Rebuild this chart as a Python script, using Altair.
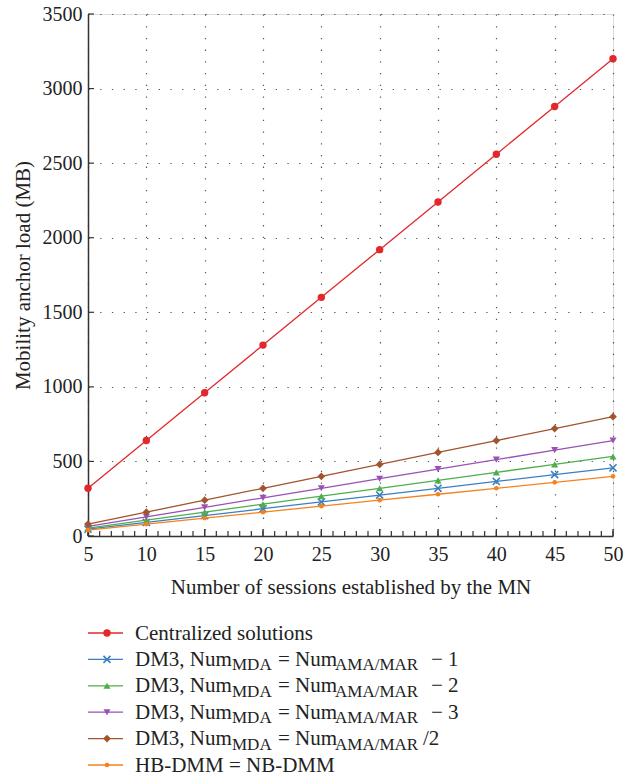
import altair as alt
import pandas as pd

# ---------------- data ----------------
sessions = [5, 10, 15, 20, 25, 30, 35, 40, 45, 50]
centralized = [320, 640, 960, 1280, 1600, 1920, 2240, 2560, 2880, 3200]
dm3_minus1 = [45.7, 91.4, 137.1, 182.9, 228.6, 274.3, 320.0, 365.7, 411.4, 457.1]
dm3_minus2 = [53.3, 106.7, 160.0, 213.3, 266.7, 320.0, 373.3, 426.7, 480.0, 533.3]
dm3_minus3 = [64, 128, 192, 256, 320, 384, 448, 512, 576, 640]
dm3_half = [80, 160, 240, 320, 400, 480, 560, 640, 720, 800]
hb_dmm = [40, 80, 120, 160, 200, 240, 280, 320, 360, 400]

x_tick_values = [5, 10, 15, 20, 25, 30, 35, 40, 45, 50]
y_tick_values = [0, 500, 1000, 1500, 2000, 2500, 3000, 3500]

x_title = "Number of sessions established by the MN"
y_title = "Mobility anchor load (MB)"

# legend labels: (text, is_subscript)
legend_labels = [
    [("Centralized solutions", False)],
    [("DM3, Num", False), ("MDA", True), ("= Num", False), ("AMA/MAR", True), ("\u2212 1", False)],
    [("DM3, Num", False), ("MDA", True), ("= Num", False), ("AMA/MAR", True), ("\u2212 2", False)],
    [("DM3, Num", False), ("MDA", True), ("= Num", False), ("AMA/MAR", True), ("\u2212 3", False)],
    [("DM3, Num", False), ("MDA", True), ("= Num", False), ("AMA/MAR", True), ("/2", False)],
    [("HB-DMM = NB-DMM", False)],
]

series_values = [centralized, dm3_minus1, dm3_minus2, dm3_minus3, dm3_half, hb_dmm]

# ---------------- style ----------------
FONT = "Liberation Serif"
W, H = 525, 522
colors = ["#e2282c", "#3b7fc2", "#4fae4b", "#9a51b5", "#a2542c", "#f5821f"]
X_PATH = "M-1,-1L1,1M1,-1L-1,1"
shapes = ["circle", X_PATH, "triangle-up", "triangle-down", "diamond", "circle"]
sizes = [55, 50, 50, 50, 60, 22]
filled = [True, False, True, True, True, True]

x_scale = alt.Scale(domain=[5, 50], nice=False, zero=False)
y_scale = alt.Scale(domain=[0, 3500], nice=False)

x_axis = alt.Axis(values=x_tick_values, format="d", title=x_title, labelFont=FONT, labelFontSize=20,
                  labelColor="#222", titleFont=FONT, titleFontSize=21, titleFontWeight="normal",
                  titleColor="#222", ticks=False, tickSize=0, labelPadding=8, titlePadding=12,
                  grid=True, gridDash=[1.3, 10.4], gridColor="#555", gridWidth=1.2,
                  domainColor="#333", domainWidth=1.5, labelFlush=False)
y_axis = alt.Axis(values=y_tick_values, format="d", title=y_title, labelFont=FONT, labelFontSize=20,
                  labelColor="#222", titleFont=FONT, titleFontSize=21, titleFontWeight="normal",
                  titleColor="#222", ticks=False, tickSize=0, labelPadding=6, titlePadding=9,
                  grid=True, gridDash=[1.3, 10.4], gridColor="#555", gridWidth=1.2,
                  domainColor="#333", domainWidth=1.5, labelFlush=False)

X = alt.X("session:Q", scale=x_scale, axis=x_axis)
Y = alt.Y("load:Q", scale=y_scale, axis=y_axis)

layers = []

# inward ticks on the x axis (major + minor)
minor_df = pd.DataFrame({"session": list(range(5, 51))})
layers.append(
    alt.Chart(minor_df).mark_rule(color="#333", strokeWidth=1.2).encode(
        x=X, y=alt.value(H), y2=alt.value(H - 5),
    )
)
major_x_df = pd.DataFrame({"session": x_tick_values})
layers.append(
    alt.Chart(major_x_df).mark_rule(color="#333", strokeWidth=1.2).encode(
        x=X, y=alt.value(H), y2=alt.value(H - 7),
    )
)
# inward ticks on the y axis
major_y_df = pd.DataFrame({"load": y_tick_values})
layers.append(
    alt.Chart(major_y_df).mark_rule(color="#333", strokeWidth=1.2).encode(
        y=Y, x=alt.value(0), x2=alt.value(6),
    )
)

ROW0, ROW_STEP = 619, 26.4
LINE_X0, LINE_X1, MARK_X = 0, 35, 19

legend_layers = []
for i, vals in enumerate(series_values):
    df = pd.DataFrame({"session": sessions, "load": vals})
    layers.append(
        alt.Chart(df).mark_line(color=colors[i], strokeWidth=1.3).encode(x=X, y=Y)
    )
    pt_kwargs = dict(shape=shapes[i], size=sizes[i], filled=filled[i], opacity=1)
    if filled[i]:
        pt_kwargs.update(fill=colors[i], strokeWidth=0)
    else:
        pt_kwargs.update(stroke=colors[i], strokeWidth=1.6)
    layers.append(alt.Chart(df).mark_point(**pt_kwargs).encode(x=X, y=Y))
    # legend symbol
    yc = ROW0 + ROW_STEP * i
    legend_layers.append(
        alt.Chart(df).mark_rule(color=colors[i], strokeWidth=1.3).encode(
            y=alt.value(yc), x=alt.value(LINE_X0), x2=alt.value(LINE_X1),
        ).transform_filter(alt.datum.session == sessions[0])
    )
    legend_layers.append(
        alt.Chart(df).mark_point(**pt_kwargs).encode(
            y=alt.value(yc), x=alt.value(MARK_X),
        ).transform_filter(alt.datum.session == sessions[0])
    )

# legend text pieces
piece_x = [47, 144, 190, 247]
for i, pieces in enumerate(legend_labels):
    yc = ROW0 + ROW_STEP * i
    for j, (txt, sub) in enumerate(pieces):
        if j < len(piece_x):
            px = piece_x[j]
        else:
            px = 343 if txt.startswith("\u2212") else 335
        legend_layers.append(
            alt.Chart(pd.DataFrame({"t": [txt]})).mark_text(
                font=FONT, fontSize=17 if sub else 21, align="left",
                baseline="alphabetic", color="#222"
            ).encode(
                x=alt.value(px), y=alt.value(yc + (11 if sub else 6.5)), text="t:N",
            )
        )

chart = alt.layer(*layers, *legend_layers).properties(
    width=W, height=H,
    padding={"left": 88, "top": 14, "right": 13, "bottom": 240},
    autosize=alt.AutoSizeParams(type="none"),
).configure_view(stroke=None).configure(background="white")

chart.save("out.html", embed_options={"renderer": "svg", "actions": False})
